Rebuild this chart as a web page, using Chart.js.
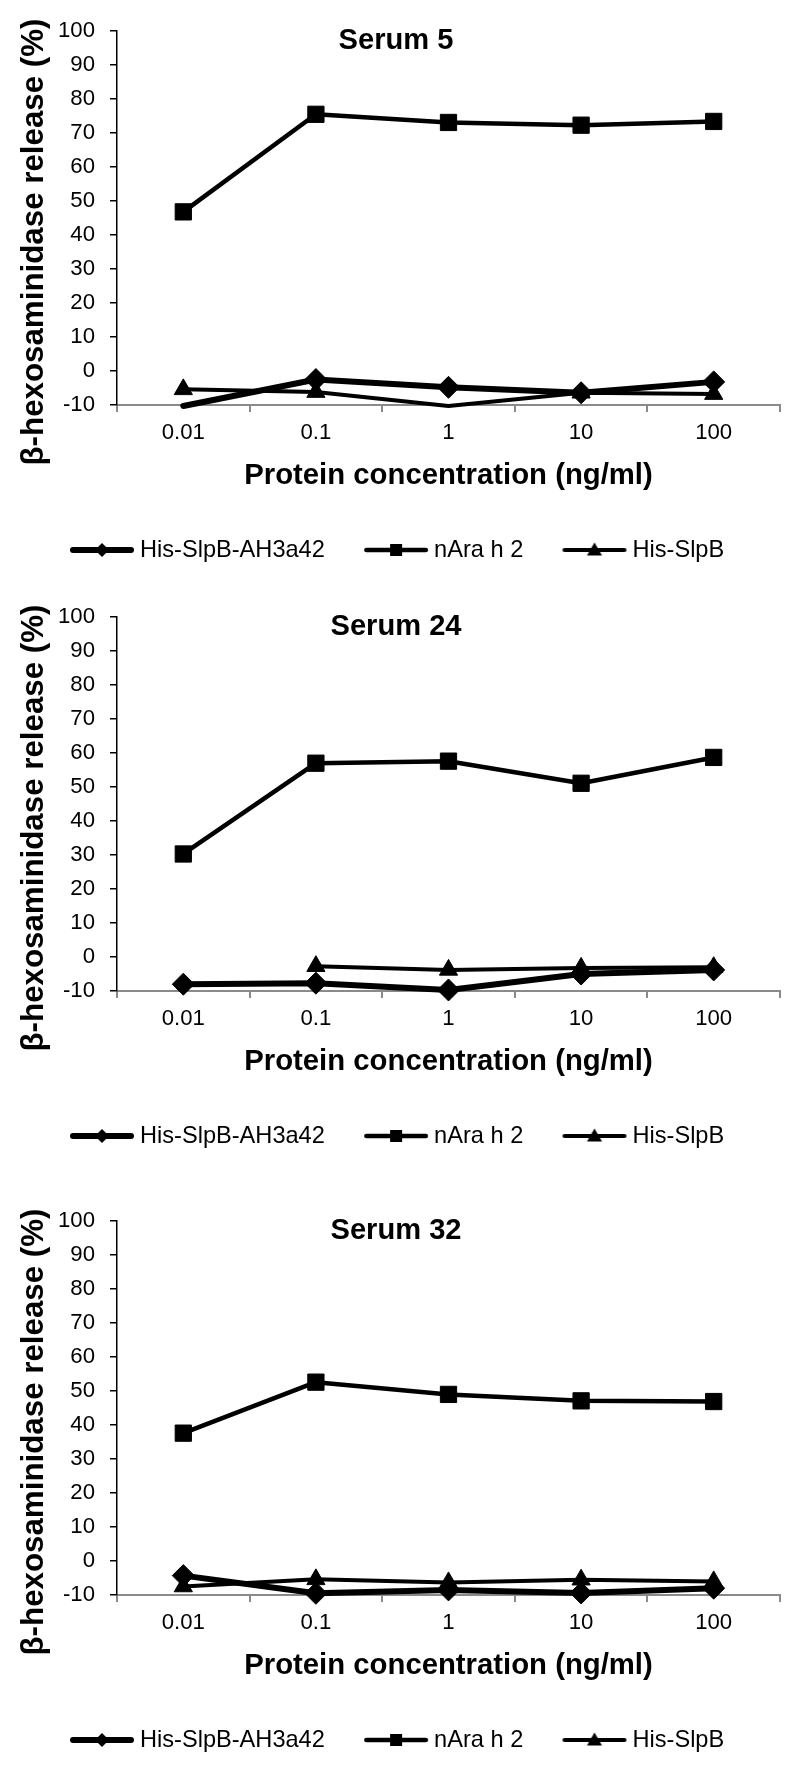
<!DOCTYPE html>
<html><head><meta charset="utf-8">
<script src="https://cdn.jsdelivr.net/npm/chart.js@4.4.1/dist/chart.umd.min.js"></script>
<style>
html,body{margin:0;padding:0;background:#fff;}
#wrap{position:relative;width:800px;height:1765px;background:#fff;overflow:hidden;}
.panel{position:absolute;left:0;width:800px;height:575px;}
</style></head><body>
<div id="wrap">
<div class="panel" style="top:0px"><canvas id="c1" width="800" height="575"></canvas></div>
<div class="panel" style="top:586px"><canvas id="c2" width="800" height="575"></canvas></div>
<div class="panel" style="top:1190px"><canvas id="c3" width="800" height="575"></canvas></div>
</div>
<script>
// ---- data ----
const categories = ['0.01', '0.1', '1', '10', '100'];
const seriesNames = ['His-SlpB-AH3a42', 'nAra h 2', 'His-SlpB'];
const panelTitles = ['Serum 5', 'Serum 24', 'Serum 32'];
const yMin = -10, yMax = 100, yStep = 10;
const xAxisTitle = 'Protein concentration (ng/ml)';
const yAxisTitle = 'β-hexosaminidase release (%)';

const serum5_HisSlpBAH3a42 = [-10.3, -2.5, -4.8, -6.4, -3.2];
const serum5_nArah2        = [46.8, 75.5, 73.1, 72.3, 73.4];
const serum5_HisSlpB       = [-5.4, -6.2, -10.3, -6.4, -6.8];

const serum24_HisSlpBAH3a42 = [-8.0, -7.7, -9.7, -5.0, -3.8];
const serum24_nArah2        = [30.3, 57.0, 57.6, 51.1, 58.7];
const serum24_HisSlpB       = [null, -2.7, -3.8, -3.2, -3.0];

const serum32_HisSlpBAH3a42 = [-4.3, -9.5, -8.5, -9.4, -8.0];
const serum32_nArah2        = [37.6, 52.6, 49.0, 47.1, 46.9];
const serum32_HisSlpB       = [-7.5, -5.4, -6.3, -5.5, -6.0];

// ---- fonts ----
function fontAvailable(name) {
  const g = document.createElement('canvas').getContext('2d');
  const s = 'abcdefghijklmnopqrstuvwxyz0123456789';
  g.font = '72px monospace'; const a = g.measureText(s).width;
  g.font = '72px "' + name + '", monospace'; const b = g.measureText(s).width;
  return Math.abs(a - b) > 0.5;
}
const FAMILY = fontAvailable('Liberation Sans Narrow')
  ? '"Liberation Sans Narrow", "Liberation Sans", Arial, sans-serif'
  : '"Liberation Sans", Arial, sans-serif';
function fitSize(text, weight, target) {
  const g = document.createElement('canvas').getContext('2d');
  g.font = weight + ' 100px ' + FAMILY;
  return Math.round(100 * target / g.measureText(text).width * 10) / 10;
}
const tickSize = fitSize('100', 'normal', 37);
const legSize = fitSize('His-SlpB-AH3a42', 'normal', 185);
const xTitleSize = fitSize(xAxisTitle, 'bold', 409);
const yTitleSize = fitSize(yAxisTitle, 'bold', 447);
const titleSize = fitSize('Serum 5', 'bold', 115);

// ---- layout (canvas 575 high, plot area 31..405) ----
const H = 575, PLOT_BOTTOM = 405;
const LEG_PAD = 45;
const legBottomPad = Math.max(0, 15 - legSize / 2);
const legendH = legSize + LEG_PAD + 10;
const xScaleH = H - legBottomPad - legendH - PLOT_BOTTOM;
const xTickPad = Math.max(0, 21 - 0.6 * tickSize);
const xTitlePad = Math.max(0, PLOT_BOTTOM + xScaleH - 0.6 * xTitleSize - 476);
const pointStyleW = Math.max(30, 76 - legSize);

// ---- styling ----
const seriesStyle = [
  {shape: 'rectRot',  lineW: 6,   r: 11,   order: 3},
  {shape: 'rect',     lineW: 4.5, r: 11.5, order: 2},
  {shape: 'triangle', lineW: 4,   r: 10.5, order: 1}
];

function legendIcon(shape, lw) {
  const c = document.createElement('canvas');
  c.width = 66; c.height = 26;
  const g = c.getContext('2d');
  g.strokeStyle = '#000'; g.fillStyle = '#000';
  g.lineWidth = lw; g.lineCap = 'round';
  g.beginPath(); g.moveTo(lw / 2 + 1, 13); g.lineTo(66 - lw / 2 - 1, 13); g.stroke();
  g.beginPath();
  if (shape === 'rectRot') { g.moveTo(26, 13); g.lineTo(33, 6); g.lineTo(40, 13); g.lineTo(33, 20); }
  else if (shape === 'rect') { g.rect(27, 7, 12, 12); }
  else { g.moveTo(33, 5.5); g.lineTo(40.5, 18.5); g.lineTo(25.5, 18.5); }
  g.closePath(); g.fill();
  return c;
}
const icons = seriesStyle.map(s => legendIcon(s.shape, s.lineW));

const overlayText = {
  id: 'overlayText',
  afterDraw(chart, args, opts) {
    const {ctx, chartArea} = chart;
    ctx.save();
    ctx.fillStyle = '#000';
    ctx.textAlign = 'center';
    ctx.textBaseline = 'middle';
    ctx.font = 'bold ' + titleSize + 'px ' + FAMILY;
    ctx.fillText(opts.title, 396, chartArea.top + 10);
    ctx.translate(34, chartArea.top + 211);
    ctx.rotate(-Math.PI / 2);
    ctx.font = 'bold ' + yTitleSize + 'px ' + FAMILY;
    ctx.fillText(yAxisTitle, 0, 0);
    ctx.restore();
  }
};

function makeChart(id, title, values) {
  const datasets = values.map((vals, i) => {
    const s = seriesStyle[i];
    return {
      label: seriesNames[i],
      data: vals,
      order: s.order,
      borderColor: '#000',
      backgroundColor: '#000',
      borderWidth: s.lineW,
      borderJoinStyle: 'round',
      borderCapStyle: 'round',
      tension: 0,
      spanGaps: false,
      clip: false,
      pointStyle: s.shape,
      pointRadius: ctx => (ctx.raw !== null && ctx.raw < yMin) ? 0 : s.r,
      pointBackgroundColor: '#000',
      pointBorderColor: '#000',
      pointBorderWidth: 1
    };
  });
  return new Chart(document.getElementById(id), {
    type: 'line',
    data: {labels: categories, datasets},
    plugins: [overlayText],
    options: {
      responsive: false,
      animation: false,
      devicePixelRatio: 1,
      layout: {padding: {top: 31, right: 20, left: 20, bottom: legBottomPad}},
      plugins: {
        overlayText: {title},
        tooltip: {enabled: false},
        title: {display: false},
        legend: {
          display: true,
          position: 'bottom',
          labels: {
            usePointStyle: true,
            pointStyleWidth: pointStyleW,
            padding: LEG_PAD,
            color: '#000',
            font: {family: FAMILY, size: legSize},
            generateLabels: chart => chart.data.datasets.map((ds, i) => ({
              text: ds.label, pointStyle: icons[i], datasetIndex: i, hidden: false,
              fillStyle: '#000', strokeStyle: '#000', lineWidth: 0, fontColor: '#000'
            }))
          }
        }
      },
      scales: {
        x: {
          type: 'category',
          offset: true,
          afterFit: scale => { scale.height = xScaleH; },
          grid: {display: true, drawOnChartArea: false, drawTicks: true, tickLength: 7, color: '#8a8a8a', lineWidth: 2, offset: true},
          border: {display: true, color: '#8a8a8a', width: 2},
          ticks: {color: '#000', padding: xTickPad, font: {family: FAMILY, size: tickSize}, maxRotation: 0},
          title: {display: true, text: xAxisTitle, color: '#000', font: {family: FAMILY, size: xTitleSize, weight: 'bold'}, padding: {top: 0, bottom: xTitlePad}}
        },
        y: {
          min: yMin, max: yMax,
          afterFit: scale => { scale.width = 97; },
          grid: {display: true, drawOnChartArea: false, drawTicks: true, tickLength: 7, color: '#000', lineWidth: 1.5},
          border: {display: true, color: '#000', width: 1.5},
          ticks: {stepSize: yStep, color: '#000', padding: 15, font: {family: FAMILY, size: tickSize}},
          title: {display: false}
        }
      }
    }
  });
}

makeChart('c1', panelTitles[0], [serum5_HisSlpBAH3a42, serum5_nArah2, serum5_HisSlpB]);
makeChart('c2', panelTitles[1], [serum24_HisSlpBAH3a42, serum24_nArah2, serum24_HisSlpB]);
makeChart('c3', panelTitles[2], [serum32_HisSlpBAH3a42, serum32_nArah2, serum32_HisSlpB]);
</script>
</body></html>
